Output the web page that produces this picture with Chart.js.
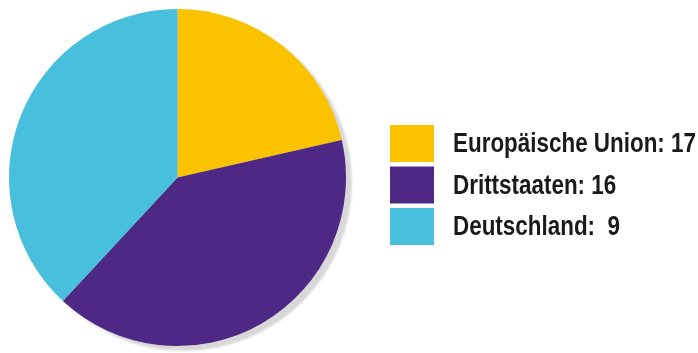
<!DOCTYPE html>
<html>
<head>
<meta charset="utf-8">
<script src="https://cdn.jsdelivr.net/npm/chart.js@4"></script>
<style>
  html, body { margin: 0; padding: 0; background: #fff; }
  #wrap { width: 698px; height: 353px; position: relative; }
</style>
</head>
<body>
<div id="wrap"><canvas id="pieChart"></canvas></div>
<script>
// categories and the counts written in the legend
const categories = ['Europäische Union', 'Drittstaaten', 'Deutschland'];
const legendCounts = ['17', '16', ' 9'];
// slice sizes as drawn in the picture
const sliceValues = [9, 17, 16];
const colors = ['#FBC200', '#4D2884', '#48BFDC'];

const FONT = "bold 28px 'Liberation Sans', Arial, sans-serif";

// gray drop shadow behind the pie
const shadowPlugin = {
  id: 'shadow',
  beforeDatasetsDraw(chart) {
    const arc = chart.getDatasetMeta(0).data[0];
    if (!arc) return;
    const ctx = chart.ctx;
    ctx.save();
    ctx.filter = 'blur(1px)';
    ctx.fillStyle = '#d8d8d9';
    ctx.beginPath();
    ctx.arc(arc.x + 6, arc.y + 5, arc.outerRadius, 0, Math.PI * 2);
    ctx.fill();
    ctx.restore();
  },
};

// legend drawn by hand to match the original layout (condensed text)
const sideLegend = {
  id: 'sideLegend',
  afterDraw(chart) {
    const ctx = chart.ctx;
    ctx.save();
    ctx.font = FONT;
    ctx.textBaseline = 'middle';
    const first = categories[0] + ': ' + legendCounts[0];
    const squeeze = 243 / ctx.measureText(first).width;
    categories.forEach((name, i) => {
      const top = 125 + i * 41.5;
      ctx.fillStyle = colors[i];
      ctx.fillRect(390, top, 44, 37);
      ctx.save();
      ctx.translate(453, top + 19.5);
      ctx.scale(squeeze, 1);
      ctx.fillStyle = '#1a1a1a';
      ctx.fillText(name + ': ' + legendCounts[i], 0, 0);
      ctx.restore();
    });
    ctx.restore();
  },
};

new Chart(document.getElementById('pieChart'), {
  type: 'pie',
  data: {
    labels: categories,
    datasets: [{
      data: sliceValues,
      backgroundColor: colors,
      borderWidth: 0,
    }],
  },
  options: {
    responsive: true,
    maintainAspectRatio: false,
    animation: false,
    layout: { padding: { left: 9, top: 9, right: 352, bottom: 7 } },
    plugins: {
      legend: { display: false },
      tooltip: { enabled: false },
    },
  },
  plugins: [shadowPlugin, sideLegend],
});
</script>
</body>
</html>
